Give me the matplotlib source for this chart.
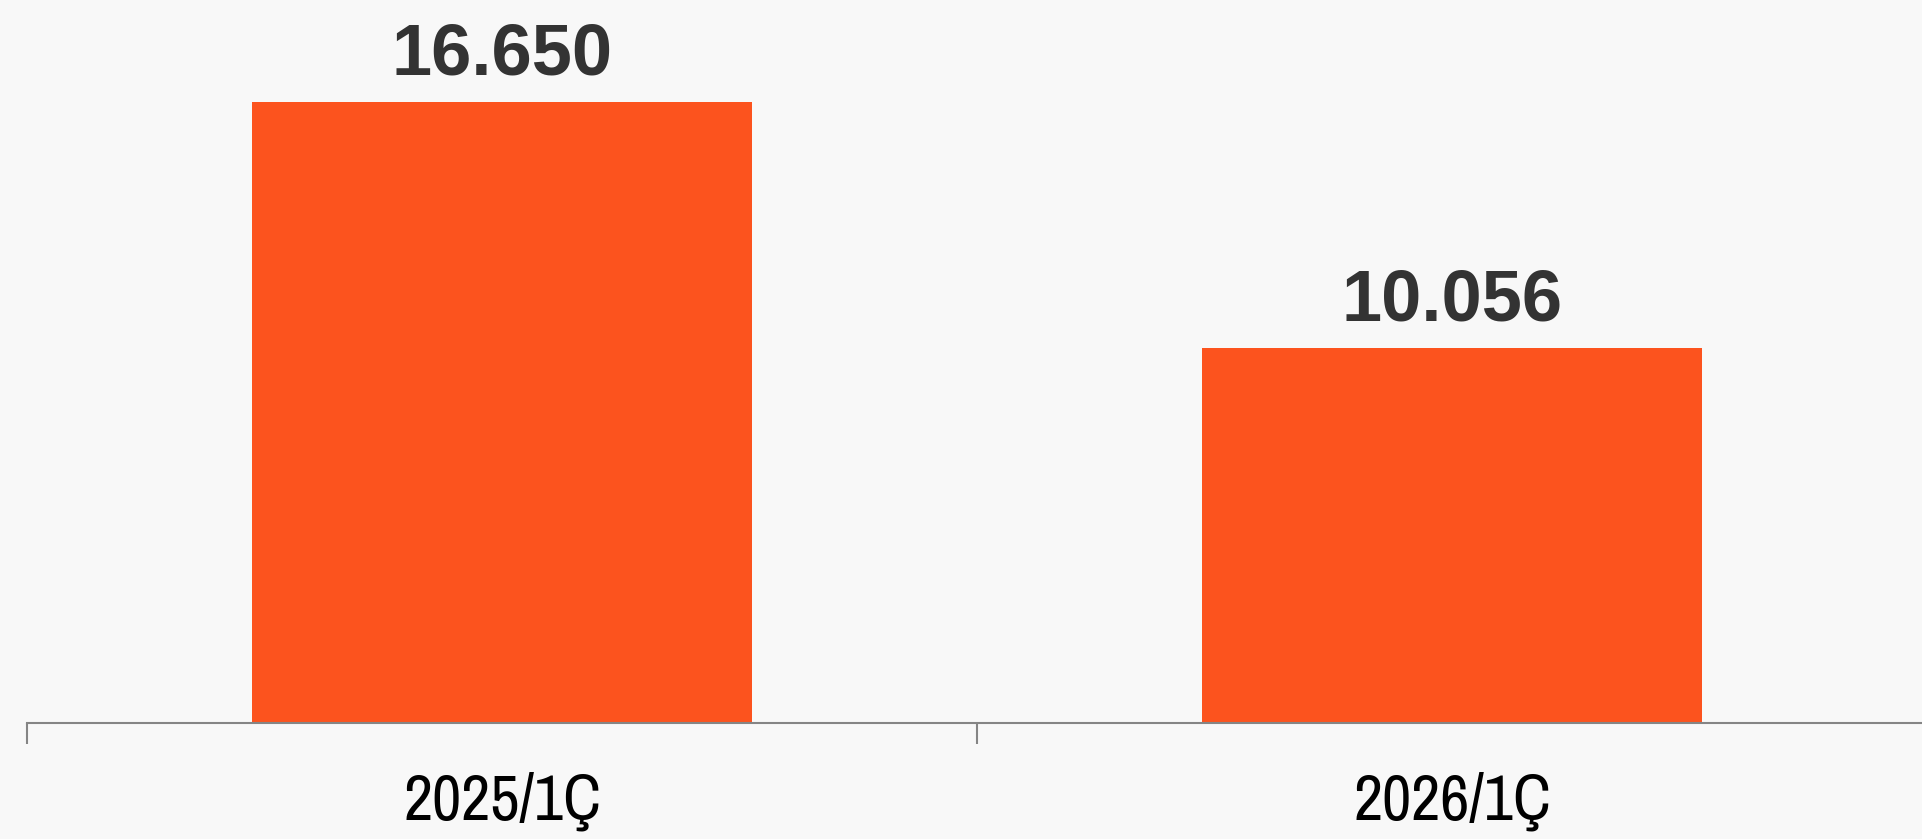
# Quarterly comparison bar chart, 2025/1Ç vs 2026/1Ç
import numpy as np
import matplotlib
matplotlib.use("Agg")
import matplotlib.pyplot as plt
from matplotlib import font_manager

categories = ["2025/1Ç", "2026/1Ç"]
values = [16650, 10056]
value_labels = ["16.650", "10.056"]

BAR_COLOR = "#fc531e"
BG_COLOR = "#f8f8f8"
TEXT_COLOR = "#333333"
AXIS_COLOR = "#858585"

# category labels: a narrow sans if one is around, else Liberation Sans
names = sorted({f.name for f in font_manager.fontManager.ttflist})
narrow = [n for n in names if "Narrow" in n or "Condensed" in n]
LABEL_FONT = narrow[0] if narrow else "Liberation Sans"
VALUE_FONT = "Liberation Sans"

W, H = 1922, 839
fig = plt.figure(figsize=(W / 100, H / 100), dpi=100)
fig.patch.set_facecolor(BG_COLOR)

# axes: x from 27px to 1927px, axis line at 722.5px from top
left, right = 27, 1927
bottom_px = H - 722.5
ax = fig.add_axes([left / W, bottom_px / H, (right - left) / W, 1 - bottom_px / H])
ax.set_facecolor("none")

x = np.arange(len(categories))
ax.bar(x, values, width=0.527, color=BAR_COLOR, zorder=2)
ax.set_xlim(-0.5, len(categories) - 0.5)
ax.set_ylim(0, 19386)

for xi, v, lab in zip(x, values, value_labels):
    ax.annotate(lab, (xi, v), xytext=(0, 27), textcoords="offset pixels",
                ha="center", va="baseline", fontsize=52, fontweight="bold",
                family=VALUE_FONT, color=TEXT_COLOR)

for s in ["top", "right", "left"]:
    ax.spines[s].set_visible(False)
ax.spines["bottom"].set_color(AXIS_COLOR)
ax.spines["bottom"].set_linewidth(1.5)
ax.set_yticks([])

# ticks at the category boundaries, labels at the centres
ax.set_xticks(np.arange(-0.5, len(categories), 1.0))
ax.set_xticklabels([])
ax.tick_params(axis="x", which="major", length=15, width=1.5, color=AXIS_COLOR)
ax.set_xticks(x, minor=True)
ax.set_xticklabels(categories, minor=True, fontsize=46, family=LABEL_FONT, color="black")
ax.tick_params(axis="x", which="minor", length=0, pad=35)

fig.savefig("out.png", dpi=100, facecolor=BG_COLOR)
